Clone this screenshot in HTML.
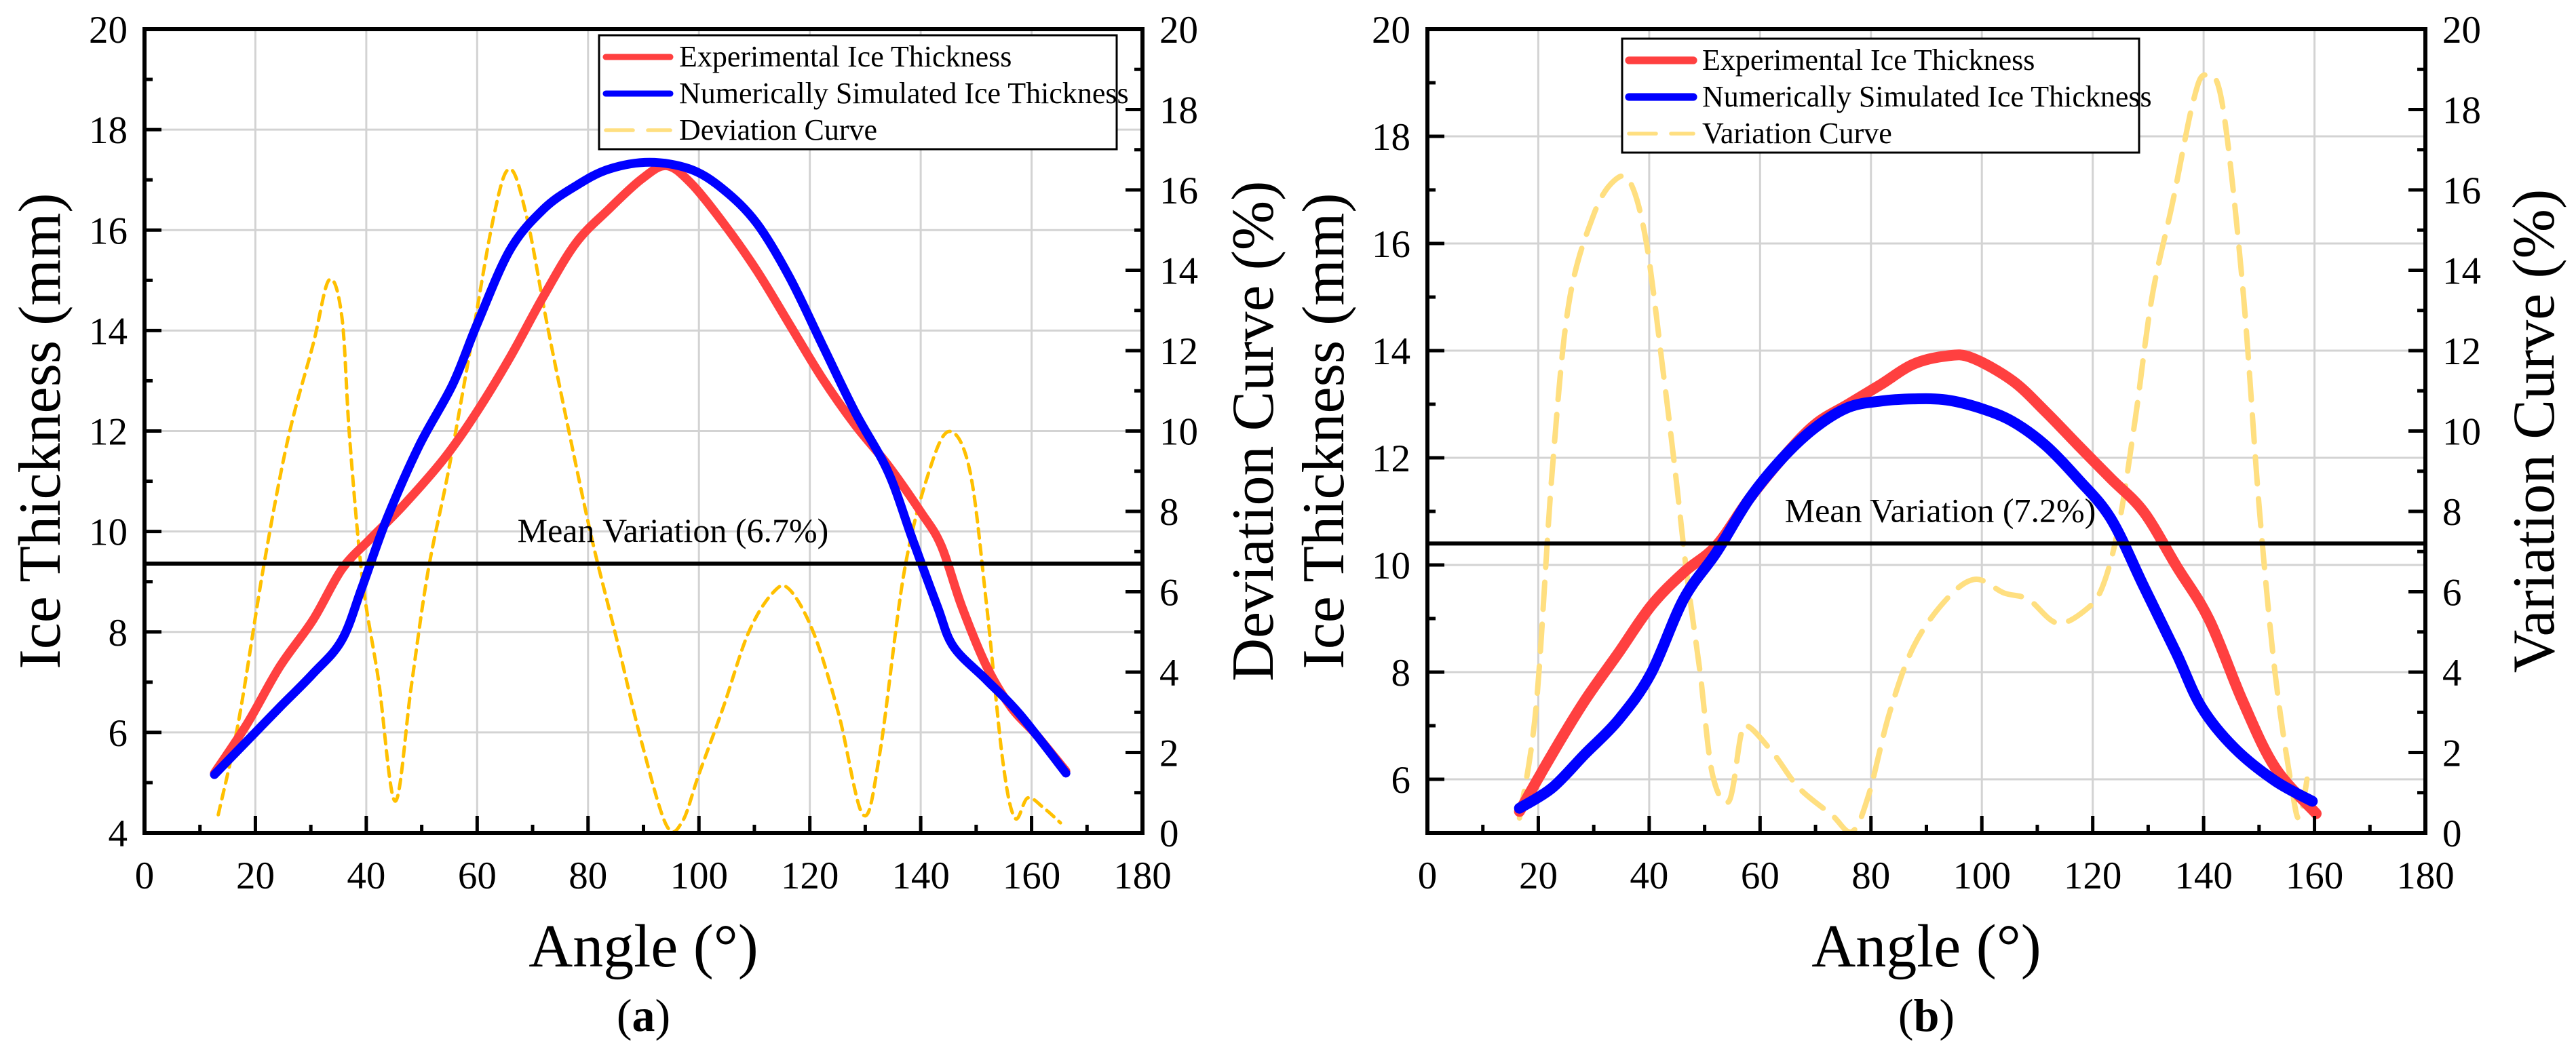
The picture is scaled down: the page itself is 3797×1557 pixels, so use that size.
<!DOCTYPE html>
<html><head><meta charset="utf-8"><style>
html,body{margin:0;padding:0;background:#fff;}
svg{display:block;}
text,tspan{font-family:"Liberation Serif","DejaVu Serif",serif;}
</style></head><body>
<svg id="chart" width="3797" height="1557" viewBox="0 0 3797 1557" xmlns="http://www.w3.org/2000/svg"></svg>
<script>
// ---- Panel (a) data ----
const aRedX=[12.6,18.5,24.4,30.4,35.6,40.7,46.7,54.1,60,65.9,71.9,77.8,83.7,89.6,94.1,98.5,104.4,110.4,116.3,122.2,128.1,134.1,140,143.7,147.4,151.9,156.3,160.7,166.2];
const aRedY=[5.19,6.17,7.31,8.24,9.25,9.85,10.52,11.46,12.39,13.46,14.67,15.74,16.41,17.01,17.28,16.94,16.14,15.2,14.13,13.06,12.13,11.32,10.39,9.72,8.51,7.31,6.5,5.97,5.23];
const aBlueX=[12.6,18.5,24.4,30.4,35.6,39.3,43.7,49.6,55.6,60,65.9,71.9,77.8,83.7,91.1,98.5,104.4,110.4,116.3,122.2,128.1,134.1,138.5,143,145.9,151.9,157.8,166.2];
const aBlueY=[5.16,5.83,6.5,7.17,7.84,8.91,10.25,11.72,12.93,14.13,15.6,16.41,16.88,17.21,17.35,17.21,16.81,16.14,15.07,13.73,12.39,11.19,9.85,8.51,7.71,7.04,6.37,5.19];
const aDevX=[13.3,17,21.5,25.9,30.4,33.3,35.6,37,39.3,42.2,45.2,48.1,51.1,54.8,58.5,63,65.9,68.9,72.6,76.3,80.7,85.2,89.6,94.1,97,100,104.4,108.9,113.3,116.3,120.7,125.2,129.6,132.6,137,141.5,145.2,148.9,151.9,154.8,157,159.3,162.2,165.2];
const aDevY=[0.45,2.8,6.64,9.82,12.15,13.76,12.84,9.82,6.31,3.8,0.79,3.63,6.48,8.99,11.83,15.35,16.52,15.35,12.67,10.16,7.31,4.8,2.29,0.2,0.28,1.46,3.13,4.97,5.97,6.06,4.97,2.96,0.45,1.96,6.48,8.99,9.99,8.99,5.64,1.79,0.37,0.87,0.62,0.25];
const aMean=[6.7];
// ---- Panel (b) data ----
const bRedX=[16.6,22.5,28.4,34.4,40.3,46.2,52.1,58.1,64,69.9,75.9,81.8,87.7,93.6,98.1,105.5,111.4,117.3,123.3,129.2,135.1,141,147,152.9,160.3];
const bRedY=[5.4,6.47,7.47,8.35,9.23,9.86,10.36,11.24,11.99,12.62,13,13.37,13.75,13.9,13.87,13.44,12.87,12.24,11.61,10.99,9.98,8.98,7.47,6.22,5.36];
const bBlueX=[16.6,22.5,28.4,34.4,40.3,46.2,52.1,58.1,64,69.9,75.9,81.8,87.7,93.6,99.6,105.5,111.4,117.3,123.3,129.2,135.1,139.6,145.5,152.9,159.6];
const bBlueY=[5.46,5.84,6.47,7.1,7.97,9.36,10.23,11.24,11.99,12.56,12.94,13.06,13.1,13.08,12.93,12.68,12.24,11.61,10.86,9.6,8.35,7.35,6.59,5.97,5.59];
const bVarX=[16.6,19.6,22.5,25.5,29.9,33.6,36.6,39.5,42.5,44.7,46.9,49.2,51.4,54.4,56.6,58.1,62.5,67,72.9,76.6,79.6,83.3,87.7,93.6,98.8,104,108.4,113.6,118.8,121.8,124.7,127.7,130.7,134.4,138.1,140.3,143.3,147,150,152.9,155.9,157.3,158.8];
const bVarY=[0.37,3.13,8.99,13.17,15.35,16.22,16.18,14.68,11.5,8.99,6.31,3.97,1.46,0.79,2.46,2.63,1.96,1.12,0.45,0.03,0.95,2.96,4.64,5.81,6.31,5.97,5.81,5.22,5.56,6.14,7.65,10.33,13.34,15.68,18.19,18.86,18.19,13.67,8.15,3.97,1.12,0.37,1.46];
const bMean=[7.2];
const xTicks=[0,20,40,60,80,100,120,140,160,180];
const rTicks=[0,2,4,6,8,10,12,14,16,18,20];

const svg=document.getElementById('chart');
const NS='http://www.w3.org/2000/svg';
const FF='"Liberation Serif","DejaVu Serif",serif';
function mk(tag,attrs,parent){const e=document.createElementNS(NS,tag);for(const k in attrs)e.setAttribute(k,attrs[k]);(parent||svg).appendChild(e);return e;}
function txt(s,attrs,parent){attrs['font-family']=FF;const e=mk('text',attrs,parent);e.textContent=s;return e;}
function smooth(pts){let d='M'+pts[0][0].toFixed(1)+','+pts[0][1].toFixed(1);
 for(let i=0;i<pts.length-1;i++){const p0=pts[Math.max(0,i-1)],p1=pts[i],p2=pts[i+1],p3=pts[Math.min(pts.length-1,i+2)];
  const c1=[p1[0]+(p2[0]-p0[0])/6,p1[1]+(p2[1]-p0[1])/6],c2=[p2[0]-(p3[0]-p1[0])/6,p2[1]-(p3[1]-p1[1])/6];
  d+=' C'+c1[0].toFixed(1)+','+c1[1].toFixed(1)+' '+c2[0].toFixed(1)+','+c2[1].toFixed(1)+' '+p2[0].toFixed(1)+','+p2[1].toFixed(1);}
 return d;}

function panel(o){
 const g=mk('g',{});
 
 
 const L=o.L,R=o.R,T=43,B=1228;
 const sx=v=>L+(v-0)/180*(R-L);
 const sy=v=>B-(v-o.ymin)/(20-o.ymin)*(B-T);
 const sr=v=>B-v/20*(B-T);
 for(const t of xTicks){if(t>0&&t<180){const l=mk('line',{x1:sx(t),x2:sx(t),y1:T,y2:B,stroke:'#d3d3d3','stroke-width':3},g);}}
 for(let v=6;v<20;v+=2){const l=mk('line',{x1:L,x2:R,y1:sy(v),y2:sy(v),stroke:'#d3d3d3','stroke-width':3},g);}
 const dash=mk('path',{d:smooth(o.devX.map((x,i)=>[sx(x),sr(o.devY[i])])),fill:'none',stroke:o.devColor,'stroke-width':o.devW,'stroke-dasharray':o.devDash,'stroke-linecap':'round'},g);
 
 const red=mk('path',{d:smooth(o.redX.map((x,i)=>[sx(x),sy(o.redY[i])])),fill:'none',stroke:'#ff4040','stroke-width':o.lw,'stroke-linecap':'round','stroke-linejoin':'round'},g);
 
 const blue=mk('path',{d:smooth(o.blueX.map((x,i)=>[sx(x),sy(o.blueY[i])])),fill:'none',stroke:'#0000ff','stroke-width':o.lw,'stroke-linecap':'round','stroke-linejoin':'round'},g);
 
 const ml=mk('line',{x1:L,x2:R,y1:sr(o.mean[0]),y2:sr(o.mean[0]),stroke:'#000','stroke-width':6},g);
 
 const mt=txt('Mean Variation ('+o.mean[0]+'%)',{x:o.meanX,y:sr(o.mean[0])-32,'font-size':50,'text-anchor':'middle'},g);
 
 for(const t of xTicks){const l=mk('line',{x1:sx(t),x2:sx(t),y1:B,y2:B-25,stroke:'#000','stroke-width':5},g);
  const m=sx(t+10);if(t<180){const n=mk('line',{x1:m,x2:m,y1:B,y2:B-12,stroke:'#000','stroke-width':5},g);}
  const tl=txt(String(t),{x:sx(t),y:B+82,'font-size':57,'text-anchor':'middle'},g);}
 for(let v=Math.ceil(o.ymin);v<=20;v++){const major=v%2===0;const l=mk('line',{x1:L,x2:L+(major?25:12),y1:sy(v),y2:sy(v),stroke:'#000','stroke-width':5},g);
  if(major){const tl=txt(String(v),{x:L-25,y:sy(v)+20,'font-size':57,'text-anchor':'end'},g);}}
 for(let v=0;v<=20;v++){const major=v%2===0;const l=mk('line',{x1:R,x2:R-(major?25:12),y1:sr(v),y2:sr(v),stroke:'#000','stroke-width':5},g);}
 for(const v of rTicks){const tl=txt(String(v),{x:R+25,y:sr(v)+20,'font-size':57},g);}
 const fr=mk('rect',{x:L,y:T,width:R-L,height:B-T,fill:'none',stroke:'#000','stroke-width':6},g);
 
 const xt=txt('Angle (°)',{x:(L+R)/2,y:1425,'font-size':90,'text-anchor':'middle'},g);
 const yt=txt('Ice Thickness (mm)',{x:0,y:0,'font-size':88,'text-anchor':'middle',transform:'translate('+(o.ytX)+','+((T+B)/2)+') rotate(-90)'},g);
 const rt=txt(o.rTitle,{x:0,y:0,'font-size':88,'text-anchor':'middle',transform:'translate('+(o.rtX)+','+((T+B)/2)+') rotate(-90)'},g);
 const cap=mk('text',{x:(L+R)/2,y:1520,'font-size':68,'text-anchor':'middle','font-family':FF},g);cap.innerHTML='(<tspan font-weight="bold">'+o.id+'</tspan>)';
 
 const lg=mk('g',{},g);
 mk('rect',{x:o.lgX,y:o.lgY,width:o.lgW,height:168,fill:'#fff',stroke:'#000','stroke-width':3},lg);
 const items=[['Experimental Ice Thickness','#ff4040',o.lw,'none'],['Numerically Simulated Ice Thickness','#0000ff',o.lw,'none'],[o.devName,o.devLegColor,8,'40 22']];
 items.forEach((it,i)=>{const y=o.lgY+32+i*54;
  const ln=mk('line',{x1:o.lgX+10,x2:o.lgX+105,y1:y,y2:y,stroke:it[1],'stroke-width':it[2]*0.7,'stroke-dasharray':it[3],'stroke-linecap':'round'},lg);
  
  const t=txt(it[0],{x:o.lgX+118,y:y+14,'font-size':44},lg);});
}
panel({id:'a',L:213,R:1684,ymin:4,redX:aRedX,redY:aRedY,blueX:aBlueX,blueY:aBlueY,devX:aDevX,devY:aDevY,mean:aMean,meanX:992,
 devColor:'#ffc000',devW:5,devDash:'14 10',lw:13,ytX:88,rtX:1876,rTitle:'Deviation Curve (%)',lgX:883,lgY:52,lgW:763,devName:'Deviation Curve',devLegColor:'#ffdf80'});
panel({id:'b',L:2104,R:3575,ymin:5,redX:bRedX,redY:bRedY,blueX:bBlueX,blueY:bBlueY,devX:bVarX,devY:bVarY,mean:bMean,meanX:2860,
 devColor:'#ffdf80',devW:8,devDash:'40 22',lw:16,ytX:1980,rtX:3764,rTitle:'Variation Curve (%)',lgX:2391,lgY:57,lgW:762,devName:'Variation Curve',devLegColor:'#ffdf80'});
</script>
</body></html>
